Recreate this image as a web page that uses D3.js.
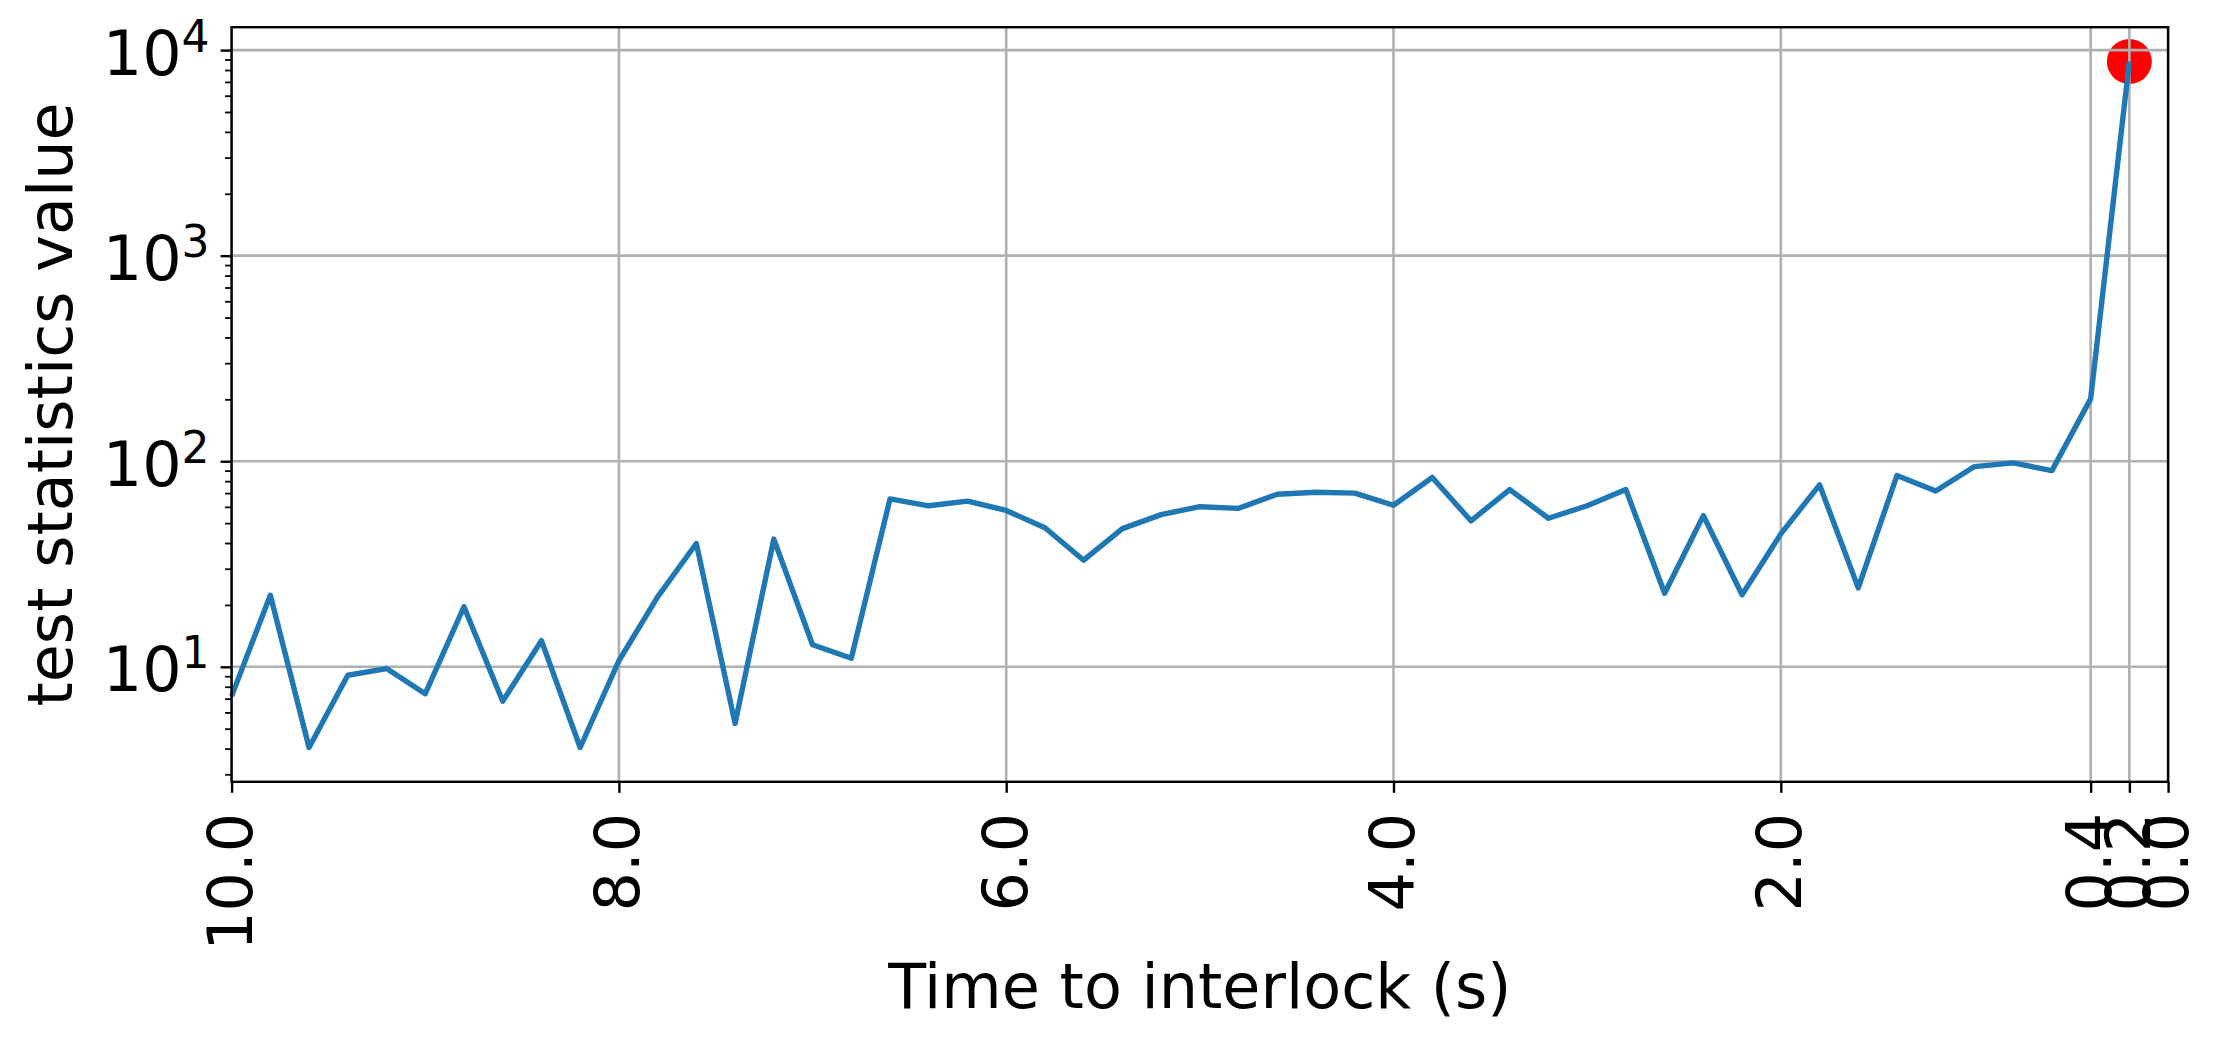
<!DOCTYPE html>
<html>
<head>
<meta charset="utf-8">
<script src="https://cdn.jsdelivr.net/npm/d3@7"></script>
<style>
  html, body { margin: 0; padding: 0; background: #fff; }
  svg { display: block; }
  text { font-family: "DejaVu Sans", sans-serif; fill: #000; }
</style>
</head>
<body>
<svg id="chart" width="2223" height="1044"></svg>
<script>
// ---- data ----
const times = [10.0, 9.8, 9.6, 9.4, 9.2, 9.0, 8.8, 8.6, 8.4, 8.2,
               8.0, 7.8, 7.6, 7.4, 7.2, 7.0, 6.8, 6.6, 6.4, 6.2,
               6.0, 5.8, 5.6, 5.4, 5.2, 5.0, 4.8, 4.6, 4.4, 4.2,
               4.0, 3.8, 3.6, 3.4, 3.2, 3.0, 2.8, 2.6, 2.4, 2.2,
               2.0, 1.8, 1.6, 1.4, 1.2, 1.0, 0.8, 0.6, 0.4, 0.2];
const statValues = [7.2, 22.3, 4.05, 9.1, 9.8, 7.4, 19.6, 6.8, 13.4, 4.05,
                    10.7, 21.9, 39.8, 5.3, 41.8, 12.8, 11.0, 65.6, 60.7, 64.0,
                    57.6, 47.5, 33.0, 47.0, 55.0, 60.1, 59.0, 69.1, 70.7, 70.0,
                    61.1, 83.4, 51.3, 72.8, 52.8, 60.7, 72.8, 22.8, 54.4, 22.4,
                    44.3, 76.8, 24.2, 85.3, 71.6, 94.2, 98.2, 90.0, 201, 8800];
const alarmTimes = [0.2];
const alarmValues = [8800];
const xTickValues = [10.0, 8.0, 6.0, 4.0, 2.0, 0.4, 0.2, 0.0];
const yTickValues = [10, 100, 1000, 10000];
const xLabel = "Time to interlock (s)";
const yLabel = "test statistics value";

// ---- layout ----
const plotLeft = 231.6, plotRight = 2168.1, plotTop = 27.2, plotBottom = 781.8;
const FS = 62;
const SPINE_W = 2.4, GRID_W = 2.6, LINE_W = 5.4;

const svg = d3.select("#chart");

const x = d3.scaleLinear().domain([10, 0]).range([plotLeft, plotRight]);

// matplotlib-like 5% margin in log space
const lmin = Math.log10(d3.min(statValues.concat(alarmValues)));
const lmax = Math.log10(d3.max(statValues.concat(alarmValues)));
const span = lmax - lmin;
const y = d3.scaleLog()
  .domain([Math.pow(10, lmin - 0.05 * span), Math.pow(10, lmax + 0.05 * span)])
  .range([plotBottom, plotTop]);

// ---- red alarm point (drawn below grid and line) ----
svg.append("g").selectAll("circle")
  .data(alarmTimes.map((t, i) => ({t, v: alarmValues[i]})))
  .join("circle")
  .attr("cx", d => x(d.t))
  .attr("cy", d => y(d.v))
  .attr("r", 22.5)
  .attr("fill", "#ff0000");

// ---- grid ----
const grid = svg.append("g");
grid.selectAll("line.gx").data(xTickValues).join("line")
  .attr("class", "gx")
  .attr("x1", d => x(d)).attr("x2", d => x(d))
  .attr("y1", plotTop).attr("y2", plotBottom)
  .attr("stroke", "#b0b0b0").attr("stroke-width", GRID_W);
grid.selectAll("line.gy").data(yTickValues).join("line")
  .attr("class", "gy")
  .attr("x1", plotLeft).attr("x2", plotRight)
  .attr("y1", d => y(d)).attr("y2", d => y(d))
  .attr("stroke", "#b0b0b0").attr("stroke-width", GRID_W);

// ---- line ----
const line = d3.line()
  .x((d, i) => x(times[i]))
  .y(d => y(d));
svg.append("path")
  .datum(statValues)
  .attr("d", line)
  .attr("fill", "none")
  .attr("stroke", "#1f77b4")
  .attr("stroke-width", LINE_W)
  .attr("stroke-linejoin", "round");

// ---- spines ----
svg.append("rect")
  .attr("x", plotLeft).attr("y", plotTop)
  .attr("width", plotRight - plotLeft).attr("height", plotBottom - plotTop)
  .attr("fill", "none").attr("stroke", "#000").attr("stroke-width", SPINE_W);

// ---- x axis ----
const xAxis = d3.axisBottom(x)
  .tickValues(xTickValues)
  .tickSize(11)
  .tickSizeOuter(0)
  .tickFormat(d3.format(".1f"));
const gx = svg.append("g")
  .attr("transform", `translate(0,${plotBottom})`)
  .call(xAxis);
gx.select(".domain").remove();
gx.selectAll(".tick line").attr("stroke", "#000").attr("stroke-width", SPINE_W);
gx.selectAll(".tick text")
  .attr("font-size", FS)
  .attr("font-family", "DejaVu Sans")
  .attr("fill", "#000")
  .attr("text-anchor", "end")
  .attr("transform", "translate(0,31) rotate(-90)")
  .attr("x", 0)
  .attr("y", 0)
  .attr("dy", "0.32em");

// ---- y axis major ----
const yAxis = d3.axisLeft(y)
  .tickValues(yTickValues)
  .tickSize(11)
  .tickSizeOuter(0)
  .tickFormat(() => "");
const gy = svg.append("g")
  .attr("transform", `translate(${plotLeft},0)`)
  .call(yAxis);
gy.select(".domain").remove();
gy.selectAll(".tick line").attr("stroke", "#000").attr("stroke-width", SPINE_W);
gy.selectAll(".tick text").each(function(d) {
  const t = d3.select(this);
  t.text(null)
    .attr("font-size", FS)
    .attr("font-family", "DejaVu Sans")
    .attr("fill", "#000")
    .attr("text-anchor", "end")
    .attr("x", -22)
    .attr("dy", null)
    .attr("y", 24);
  t.append("tspan").text("10");
  t.append("tspan")
    .attr("font-size", 44)
    .attr("dy", -23)
    .text(String(Math.round(Math.log10(d))));
});

// ---- y axis minor ----
const [d0, d1] = y.domain();
const minorVals = [];
for (let e = Math.floor(Math.log10(d0)); e <= Math.ceil(Math.log10(d1)); e++) {
  for (let m = 2; m <= 9; m++) {
    const v = m * Math.pow(10, e);
    if (v >= d0 && v <= d1) minorVals.push(v);
  }
}
const gyMinor = svg.append("g")
  .attr("transform", `translate(${plotLeft},0)`)
  .call(d3.axisLeft(y).tickValues(minorVals).tickSize(6.5).tickSizeOuter(0).tickFormat(() => ""));
gyMinor.select(".domain").remove();
gyMinor.selectAll(".tick line").attr("stroke", "#000").attr("stroke-width", 1.8);

// ---- axis labels ----
svg.append("text")
  .attr("x", (plotLeft + plotRight) / 2)
  .attr("y", 1008)
  .attr("text-anchor", "middle")
  .attr("font-size", FS)
  .text(xLabel);

svg.append("text")
  .attr("transform", `translate(72,${(plotTop + plotBottom) / 2}) rotate(-90)`)
  .attr("text-anchor", "middle")
  .attr("font-size", FS)
  .text(yLabel);
</script>
</body>
</html>
